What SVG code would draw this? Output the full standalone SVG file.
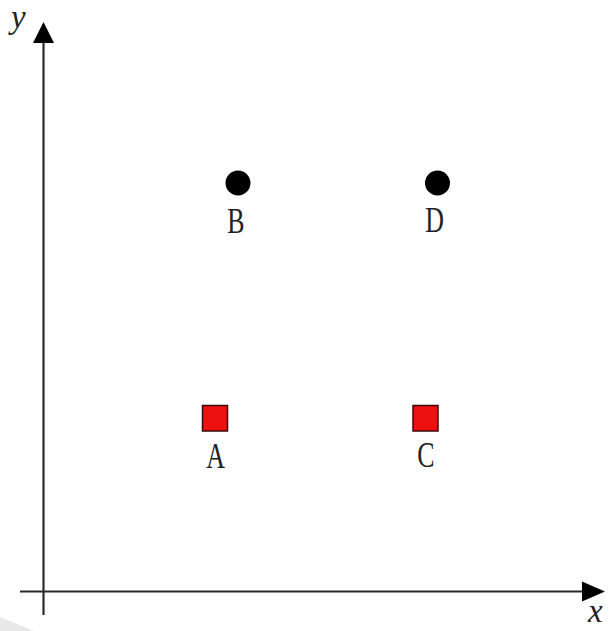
<svg xmlns="http://www.w3.org/2000/svg" width="613" height="631" viewBox="0 0 613 631">
<style>
.axis{stroke:#2a2a2a;stroke-width:2.2;fill:none}
.lbl{font-family:"Liberation Serif",serif;font-size:36px;fill:#222}
.ax{font-family:"Liberation Serif",serif;font-style:italic;font-size:33px;fill:#222}
.sq{fill:#ee1111;stroke:#3a0a0a;stroke-width:1.5}
.dot{fill:#000}
</style>
<rect width="613" height="631" fill="#fff"/>
<polygon points="0,617 34,631 0,631" fill="#e8e8e8"/>
<g id="connectors">
<line class="axis" x1="43.5" y1="615" x2="43.5" y2="40"/>
<polygon points="43.5,22 33,43 54,43" fill="#000"/>
<line class="axis" x1="20" y1="591.5" x2="584" y2="591.5"/>
<polygon points="605,591.5 582,581.5 582,601.5" fill="#000"/>
</g>
<g id="axis-y"><text class="ax" x="11" y="28">y</text></g>
<g id="axis-x"><text class="ax" x="588" y="622">x</text></g>
<g id="B"><circle class="dot" cx="238" cy="183" r="12.5"/><text class="lbl" transform="translate(236,233) scale(0.72,1)" text-anchor="middle">B</text></g>
<g id="D"><circle class="dot" cx="437.5" cy="183" r="12.5"/><text class="lbl" transform="translate(434.5,232) scale(0.72,1)" text-anchor="middle">D</text></g>
<g id="A"><rect class="sq" x="202.5" y="405.5" width="25" height="25.5"/><text class="lbl" transform="translate(215.5,468) scale(0.72,1)" text-anchor="middle">A</text></g>
<g id="C"><rect class="sq" x="413" y="405.5" width="25" height="25.5"/><text class="lbl" transform="translate(426,467) scale(0.72,1)" text-anchor="middle">C</text></g>
</svg>
